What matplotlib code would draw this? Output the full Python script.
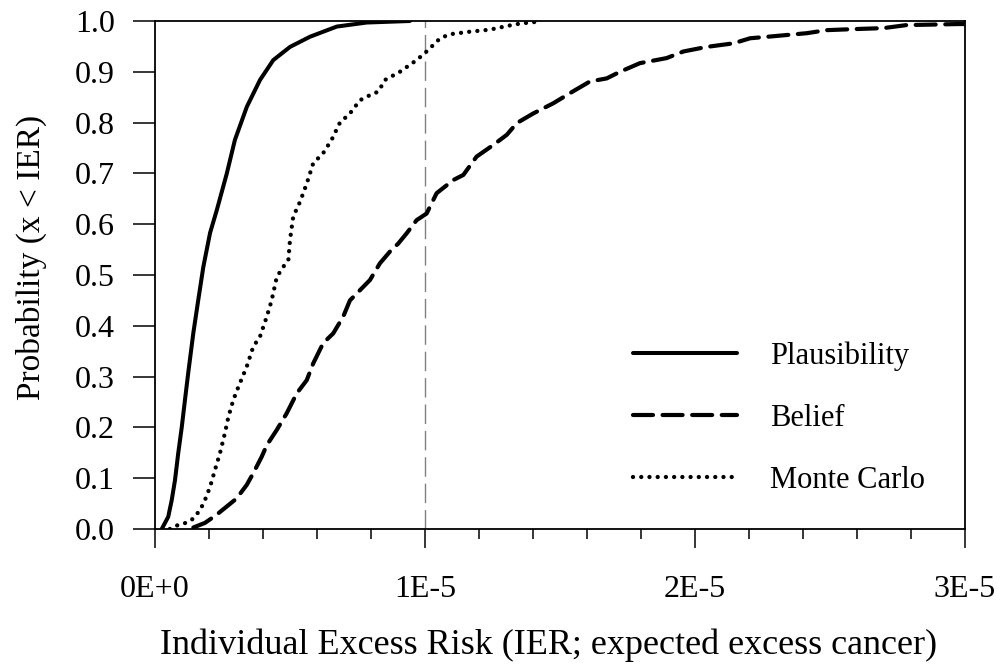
import matplotlib
matplotlib.use("Agg")
import matplotlib.pyplot as plt
from matplotlib.ticker import MultipleLocator, FixedLocator, FixedFormatter

plt.rcParams['font.family'] = ['Liberation Serif', 'DejaVu Serif']

# IER values in units of 1E-6
plaus_x = [0.25, 0.49, 0.62, 0.74, 0.86, 0.99, 1.11, 1.23, 1.42, 1.60, 1.79, 2.04, 2.29,
           2.66, 2.96, 3.40, 3.89, 4.38, 5.0, 5.74, 6.73, 7.84, 9.44]
plaus_y = [0.0, 0.024, 0.057, 0.096, 0.149, 0.2, 0.254, 0.307, 0.386, 0.45, 0.516, 0.583, 0.628,
           0.70, 0.766, 0.831, 0.884, 0.923, 0.949, 0.969, 0.989, 0.997, 1.0]

mc_x = [0.55, 0.74, 1.05, 1.36, 1.67, 1.85, 2.04, 2.22, 2.41, 2.59, 2.72, 2.90, 3.09, 3.40,
        3.64, 3.89, 4.14, 4.32, 4.51, 4.75, 4.94, 5.0, 5.12, 5.37, 5.62, 5.86, 6.23, 6.54,
        6.85, 7.22, 7.59, 7.96, 8.27, 8.52, 9.07, 9.69, 10.06, 10.56, 10.93, 11.67, 12.41,
        13.02, 13.52, 14.07, 14.3]
mc_y = [0.0, 0.006, 0.01, 0.018, 0.037, 0.057, 0.083, 0.116, 0.15, 0.189, 0.221, 0.254, 0.28,
        0.32, 0.359, 0.379, 0.418, 0.45, 0.496, 0.516, 0.53, 0.569, 0.615, 0.644, 0.68, 0.72,
        0.74, 0.766, 0.80, 0.818, 0.844, 0.854, 0.861, 0.884, 0.90, 0.923, 0.94, 0.966, 0.974,
        0.979, 0.983, 0.99, 0.995, 0.998, 1.0]

bel_x = [1.42, 1.85, 2.28, 2.65, 3.02, 3.40, 3.64, 3.95, 4.14, 4.51, 4.88, 5.25, 5.62, 5.86,
         6.23, 6.60, 6.97, 7.22, 7.59, 7.96, 8.33, 8.70, 9.01, 9.32, 9.69, 10.06, 10.43, 11.05,
         11.42, 11.91, 12.53, 13.03, 13.40, 14.01, 14.75, 15.37, 16.11, 16.73, 17.22, 17.96,
         18.95, 19.57, 20.43, 21.42, 22.04, 22.9, 24.14, 24.88, 25.86, 26.98, 27.84, 28.83,
         29.75, 30.0]
bel_y = [0.003, 0.012, 0.028, 0.044, 0.06, 0.087, 0.11, 0.142, 0.165, 0.195, 0.228, 0.267,
         0.293, 0.326, 0.366, 0.385, 0.418, 0.45, 0.47, 0.49, 0.523, 0.546, 0.562, 0.582, 0.608,
         0.621, 0.661, 0.687, 0.697, 0.733, 0.756, 0.776, 0.799, 0.818, 0.838, 0.858, 0.881,
         0.887, 0.90, 0.917, 0.927, 0.94, 0.949, 0.956, 0.966, 0.97, 0.976, 0.982, 0.984, 0.986,
         0.992, 0.993, 0.994, 0.994]

x_ticks = [0, 1e-5, 2e-5, 3e-5]
x_ticklabels = ['0E+0', '1E-5', '2E-5', '3E-5']
y_ticks = [i / 10 for i in range(11)]
y_ticklabels = ['%.1f' % v for v in y_ticks]
ref_line_x = 1e-5

scale = 1e-6

fig = plt.figure(figsize=(10, 6.66), dpi=100)
ax = fig.add_axes([0.155, 1 - 529 / 666, 0.81, (529 - 21) / 666])

ax.axvline(ref_line_x, color='#808080', lw=1.0, dashes=(14, 5), zorder=1)

ax.plot([v * scale for v in plaus_x], plaus_y, color='black', lw=2.9,
        solid_capstyle='round', label='Plausibility', zorder=3)
ax.plot([v * scale for v in bel_x], bel_y, color='black', lw=3.0,
        dashes=(4.8, 2.3), dash_capstyle='round', label='Belief', zorder=3)
ax.plot([v * scale for v in mc_x], mc_y, color='black', lw=3.1,
        dashes=(0.01, 1.9), dash_capstyle='round', label='Monte Carlo', zorder=3)

ax.set_xlim(0, 3e-5)
ax.set_ylim(0, 1.0)

ax.xaxis.set_major_locator(FixedLocator(x_ticks))
ax.xaxis.set_major_formatter(FixedFormatter(x_ticklabels))
ax.xaxis.set_minor_locator(MultipleLocator(2e-6))
ax.yaxis.set_major_locator(FixedLocator(y_ticks))
ax.yaxis.set_major_formatter(FixedFormatter(y_ticklabels))

ax.tick_params(axis='x', which='major', direction='out', length=14, width=1.1,
               labelsize=23, pad=19)
ax.tick_params(axis='x', which='minor', direction='out', length=7, width=1.1)
ax.tick_params(axis='y', which='major', direction='out', length=16, width=1.1,
               labelsize=23, pad=13)

for s in ax.spines.values():
    s.set_linewidth(1.3)
    s.set_color('black')

ax.set_xlabel('Individual Excess Risk (IER; expected excess cancer)', fontsize=26)
ax.set_ylabel('Probability (x < IER)', fontsize=24)
ax.xaxis.set_label_coords(0.486, -0.196)
ax.yaxis.set_label_coords(-0.133, 0.534)

leg = ax.legend(loc='center left', bbox_to_anchor=(0.590, 0.2185), frameon=False,
                fontsize=22, handlelength=3.41, handletextpad=1.09, labelspacing=1.08,
                borderaxespad=0, borderpad=0)

fig.savefig('out.png', dpi=100)
